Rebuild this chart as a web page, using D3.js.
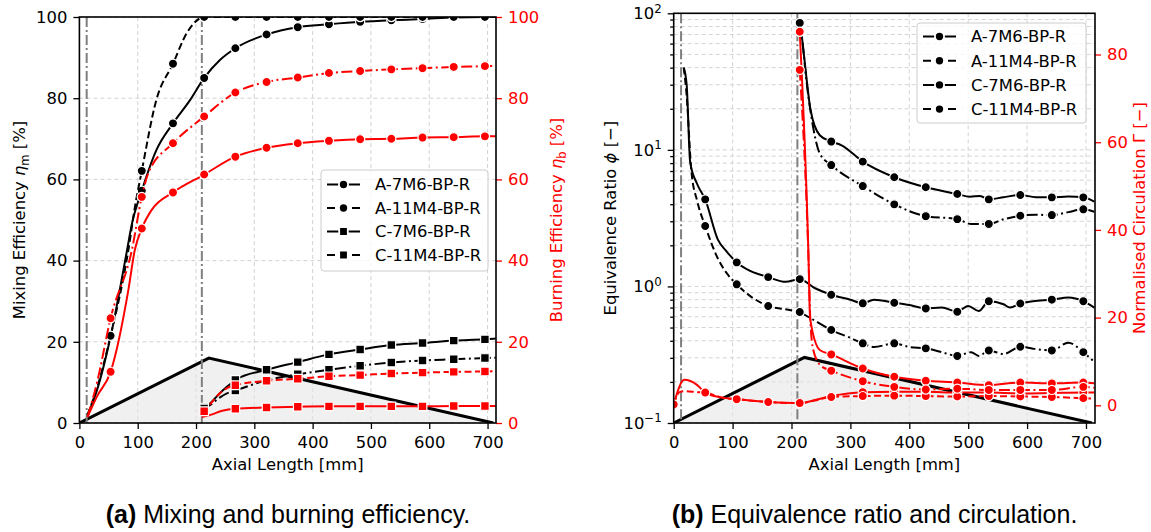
<!DOCTYPE html>
<html>
<head>
<meta charset="utf-8">
<script src="https://cdn.jsdelivr.net/npm/d3@7"></script>
<style>
  body { margin: 0; background: #fff; }
  text { font-family: "DejaVu Sans", sans-serif; }
</style>
</head>
<body>
<svg id="chart" width="1151" height="532"></svg>
<script>
// ticks, sections and legend
const markerX = [0, 53.5, 107, 160.5, 214, 267.5, 321, 374.5, 428, 481.5, 535, 588.5, 642, 695.5];
const xTicks = [0, 100, 200, 300, 400, 500, 600, 700];
const effTicks = [0, 20, 40, 60, 80, 100];
const phiTicks = [0.1, 1, 10, 100];
const phiTickExp = ["\u22121", "0", "1", "2"];
const gammaTicks = [0, 20, 40, 60, 80];
const sectionX = [12.5, 210];
const coneX = [0, 222, 710];
const coneH = [0, 0.16, 0];
const legendNames = ["A-7M6-BP-R", "A-11M4-BP-R", "C-7M6-BP-R", "C-11M4-BP-R"];

// (a) mixing efficiency [%]
const mixA7 = [[14,2],[30,8],[53.5,21.3],[81,42],[90,49],[107,57.2],[132,67.2],[160.5,73.8],[190,79.6],[214,85],[241,89.4],[267.5,92.3],[321,95.7],[374.5,97.5],[428,98.2],[481.5,98.8],[535,99.2],[588.5,99.5],[642,99.9],[695.5,100],[714,100]];
const mixA11 = [[14,2],[30,8.5],[53.5,21.5],[84,42.6],[95,53],[107,62.1],[132,79.6],[160.5,88.5],[184,96],[207,99.7],[214,100],[267.5,100],[321,100],[374.5,100],[428,100],[481.5,100],[535,100],[588.5,100],[642,100],[695.5,100],[714,100]];
const mixC7 = [[212,3.5],[214,3.8],[224,4.8],[240,7.2],[253,8.9],[267.5,10.6],[321,13.1],[374.5,15.0],[428,16.9],[481.5,18.1],[535,19.2],[588.5,19.7],[642,20.3],[695.5,20.6],[714,20.8]];
const mixC11 = [[212,3.3],[214,3.6],[224,4.4],[240,6.2],[253,7.3],[267.5,8.0],[321,10.5],[374.5,12.0],[428,13.1],[481.5,14.1],[535,14.9],[588.5,15.4],[642,15.7],[695.5,16.0],[714,16.1]];
// (a) burning efficiency [%]
const burnA7 = [[14,1.5],[30,6.5],[53.5,12.6],[84,32.8],[95,42.6],[107,47.9],[124,52.5],[160.5,56.8],[214,61.2],[267.5,65.6],[321,67.8],[374.5,68.9],[428,69.5],[481.5,69.9],[535,70.0],[588.5,70.3],[642,70.4],[695.5,70.6],[714,70.6]];
const burnA11 = [[14,1.5],[30,9.8],[53.5,25.8],[90,42.6],[107,55.7],[118,61.5],[160.5,68.9],[214,75.5],[267.5,81.4],[321,84],[374.5,85.1],[428,86.2],[481.5,86.7],[535,87.1],[588.5,87.4],[642,87.7],[695.5,87.9],[714,88]];
const burnC7 = [[210,1.5],[225,2.0],[245,3.0],[267.5,3.5],[321,3.8],[374.5,4.0],[428,4.1],[481.5,4.1],[535,4.1],[588.5,4.1],[642,4.2],[695.5,4.2],[714,4.2]];
const burnC11 = [[212,2.6],[214,2.9],[224,4.6],[240,7.2],[253,8.6],[267.5,9.3],[321,10.4],[374.5,10.9],[428,11.5],[481.5,11.8],[535,12.2],[588.5,12.4],[642,12.6],[695.5,12.7],[714,12.8]];

// (b) equivalence ratio [-]
const phiA7 = [[17,40],[22,30],[28,8.1],[40,5.6],[53.5,4.34],[75,2.2],[90,1.8],[107,1.5],[130,1.3],[160.5,1.17],[190,1.08],[214,1.13],[240,0.97],[267.5,0.87],[300,0.8],[321,0.752],[340,0.8],[374.5,0.76],[400,0.73],[428,0.69],[455,0.70],[481.5,0.653],[500,0.72],[518,0.66],[535,0.78],[560,0.74],[571,0.70],[588.5,0.75],[610,0.78],[642,0.8],[670,0.83],[695.5,0.78],[714,0.70]];
const phiA11 = [[17,40],[22,25],[30,7.0],[40,4.2],[53.5,2.77],[75,1.6],[90,1.25],[107,1.036],[130,0.85],[160.5,0.719],[190,0.68],[214,0.65],[240,0.56],[267.5,0.48],[300,0.42],[321,0.383],[340,0.36],[374.5,0.383],[400,0.36],[428,0.352],[455,0.33],[481.5,0.31],[505,0.33],[518,0.31],[535,0.34],[560,0.32],[588.5,0.362],[610,0.35],[642,0.34],[670,0.387],[695.5,0.33],[714,0.28]];
const phiC7 = [[214,85],[218,65],[225,35],[232,20],[248,12.8],[267.5,11.5],[285,10.8],[321,8.2],[374.5,6.3],[428,5.32],[481.5,4.75],[503,4.54],[520,4.6],[535,4.34],[560,4.5],[588.5,4.67],[615,4.5],[642,4.49],[670,4.55],[695.5,4.49],[714,4.17]];
const phiC11 = [[214,85],[218,65],[225,33],[232,19.6],[248,9.4],[267.5,7.74],[321,5.43],[374.5,3.99],[428,3.27],[481.5,3.11],[505,2.87],[535,2.87],[560,3.1],[588.5,3.29],[615,3.35],[642,3.33],[670,3.5],[695.5,3.67],[714,3.52]];
// (b) normalised circulation [-]
const gamA7 = [[0,0.2],[18,5.8],[40,4.6],[53.5,2.9],[80,1.8],[107,1.4],[160.5,0.75],[214,0.5],[240,1.2],[267.5,2.1],[321,3.0],[374.5,3.1],[428,3.1],[481.5,2.9],[535,2.9],[588.5,2.7],[642,2.8],[695.5,2.9],[714,2.9]];
const gamA11 = [[0,0.2],[10,3.0],[18,3.2],[40,3.0],[53.5,2.9],[80,1.8],[107,1.4],[160.5,0.75],[214,0.5],[240,1.1],[267.5,1.9],[321,2.1],[374.5,2.2],[428,2.1],[481.5,2.0],[535,2.1],[588.5,2.0],[642,1.9],[695.5,1.6],[714,1.5]];
const gamC7 = [[214,85.2],[228.6,35.4],[231.6,19.8],[248,12.6],[267.5,11.6],[321,8.4],[374.5,6.5],[428,5.6],[481.5,5.2],[535,4.6],[588.5,5.2],[642,5.0],[695.5,5.2],[714,5.0]];
const gamC11 = [[214,76.5],[229,33],[232,19.4],[237,12.6],[250,9],[267.5,7.9],[321,5.5],[374.5,4.2],[428,3.6],[481.5,3.8],[535,3.5],[588.5,3.5],[642,3.5],[695.5,4.2],[714,4.0]];

const svg = d3.select("#chart");
const FS = 16.4;
const dashes = { solid: null, dashed: "7,3.5", dashdot: "11,3.5,2,3.5" };
const symbols = { circle: d3.symbol().type(d3.symbolCircle).size(66)(),
                  square: d3.symbol().type(d3.symbolSquare).size(74)() };

function styleAxis(a, color) {
  a.select(".domain").remove();
  a.selectAll(".tick line").attr("stroke", color).attr("stroke-width", 1.3);
  a.selectAll(".tick text").attr("fill", color).attr("font-size", FS).attr("font-family", "DejaVu Sans");
  return a;
}

function rotLabel(g, x, y, parts, color) {
  const t = g.append("text").attr("transform", `translate(${x},${y}) rotate(-90)`)
    .attr("text-anchor", "middle").attr("font-size", FS).attr("fill", color);
  let shift = 0;
  parts.forEach(p => {
    const s = t.append("tspan").text(p.t);
    const want = p.sub ? 4 : 0;
    if (want !== shift) { s.attr("dy", want - shift); shift = want; }
    if (p.sub) s.attr("font-size", FS * 0.7);
    if (p.it) s.attr("font-style", "italic");
  });
}

function drawPanel(p) {
  const g = svg.append("g");
  const [x0, x1] = p.x.range();
  const [yb, yt] = p.y.range();
  const clipId = p.id + "-clip";
  svg.append("clipPath").attr("id", clipId).append("rect")
    .attr("x", x0).attr("y", yt).attr("width", x1 - x0).attr("height", yb - yt);

  // grid
  const grid = g.append("g").attr("stroke", "#d3d3d3").attr("stroke-width", 1).attr("stroke-dasharray", "4,3");
  grid.selectAll(".gx").data(xTicks).join("line").attr("class", "gx")
    .attr("x1", d => p.x(d)).attr("x2", d => p.x(d)).attr("y1", yt).attr("y2", yb);
  grid.selectAll(".gy").data(p.yGrid).join("line").attr("class", "gy")
    .attr("x1", x0).attr("x2", x1).attr("y1", d => p.y(d)).attr("y2", d => p.y(d));

  // schematic cone
  const coneY = d3.scaleLinear().domain([0, 1]).range([yb, yt]);
  const cone = coneX.map((d, i) => [p.x(d), coneY(coneH[i])]);
  g.append("path").attr("d", d3.line()(cone) + "Z").attr("fill", "#e6e6e6").attr("fill-opacity", 0.6)
    .attr("clip-path", `url(#${clipId})`);
  g.append("path").attr("d", d3.line()(cone)).attr("fill", "none").attr("stroke", "#000")
    .attr("stroke-width", 3).attr("clip-path", `url(#${clipId})`);

  // section boundaries
  g.selectAll(".sec").data(sectionX).join("line").attr("class", "sec")
    .attr("x1", d => p.x(d)).attr("x2", d => p.x(d)).attr("y1", yt).attr("y2", yb)
    .attr("stroke", "#808080").attr("stroke-width", 2).attr("stroke-dasharray", "10,3,2,3");

  // series
  const plot = g.append("g").attr("clip-path", `url(#${clipId})`);
  p.series.forEach(s => {
    const ys = s.right ? p.y2 : p.y;
    const line = d3.line().x(d => p.x(d[0])).y(d => ys(d[1])).curve(d3.curveMonotoneX);
    const parts = s.splitX
      ? [[s.data.filter(d => d[0] <= s.splitX), s.dash], [s.data.filter(d => d[0] >= s.splitX), s.dash2]]
      : [[s.data, s.dash]];
    parts.forEach(([pts, dash]) => {
      plot.append("path").attr("d", line(pts)).attr("fill", "none").attr("stroke", s.color)
        .attr("stroke-width", 2).attr("stroke-dasharray", dashes[dash]);
    });
    plot.selectAll(null).data(s.data.filter(d => markerX.includes(d[0]))).join("path")
      .attr("d", symbols[s.marker])
      .attr("transform", d => `translate(${p.x(d[0])},${ys(d[1])})`)
      .attr("fill", s.color).attr("stroke", "#fff").attr("stroke-width", 1.2);
  });

  // axes
  styleAxis(g.append("g").attr("transform", `translate(0,${yb})`)
    .call(d3.axisBottom(p.x).tickValues(xTicks).tickSize(6).tickPadding(7.5).tickSizeOuter(0)), "#000");
  const la = styleAxis(g.append("g").attr("transform", `translate(${x0},0)`).call(p.leftAxis), "#000");
  if (p.leftMinor) styleAxis(g.append("g").attr("transform", `translate(${x0},0)`).call(p.leftMinor), "#000");
  if (p.logLabels) {
    la.selectAll(".tick text").each(function (d, i) {
      const t = d3.select(this).text("10");
      t.append("tspan").attr("dy", "-0.55em").attr("font-size", FS * 0.72).text(phiTickExp[i]);
    });
  }
  styleAxis(g.append("g").attr("transform", `translate(${x1},0)`).call(p.rightAxis), "red");

  // spines
  g.append("rect").attr("x", x0).attr("y", yt).attr("width", x1 - x0).attr("height", yb - yt)
    .attr("fill", "none").attr("stroke", "#000").attr("stroke-width", 1.6);

  // labels
  g.append("text").attr("x", (x0 + x1) / 2).attr("y", 470).attr("text-anchor", "middle")
    .attr("font-size", FS).text("Axial Length [mm]");
  rotLabel(g, x0 - p.labelOff[0], (yt + yb) / 2, p.leftLabel, "#000");
  rotLabel(g, x1 + p.labelOff[1], (yt + yb) / 2, p.rightLabel, "red");

  // legend
  const L = p.legend;
  g.append("rect").attr("x", L.x).attr("y", L.y).attr("width", L.w).attr("height", L.h).attr("rx", 3)
    .attr("fill", "#fff").attr("fill-opacity", 0.8).attr("stroke", "#cccccc");
  legendNames.forEach((name, i) => {
    const cy = L.y + L.first + i * L.step;
    g.append("line").attr("x1", L.x + 6).attr("x2", L.x + 39).attr("y1", cy).attr("y2", cy)
      .attr("stroke", "#000").attr("stroke-width", 2)
      .attr("stroke-dasharray", i % 2 ? "8,17,8" : null);
    g.append("path").attr("d", symbols[L.markers[i]]).attr("transform", `translate(${L.x + 22.5},${cy})`)
      .attr("fill", "#000").attr("stroke", "#fff").attr("stroke-width", 1.8);
    g.append("text").attr("x", L.x + 54).attr("y", cy + 5.8).attr("font-size", FS).text(name);
  });

  // caption
  const cap = svg.append("text").attr("x", p.capX).attr("y", 523).attr("text-anchor", "middle")
    .attr("font-size", 25).style("font-family", "'Liberation Sans', sans-serif");
  cap.append("tspan").attr("font-weight", "bold").text(p.capTag);
  cap.append("tspan").text(" " + p.caption);
}

// (a)
const xA = d3.scaleLinear().domain([0, 714.5]).range([79.4, 496]);
const yA = d3.scaleLinear().domain([0, 100]).range([423, 17]);
drawPanel({
  id: "pa", x: xA, y: yA, y2: yA, yGrid: effTicks, labelOff: [54.5, 66],
  leftAxis: d3.axisLeft(yA).tickValues(effTicks).tickSize(6).tickPadding(6),
  rightAxis: d3.axisRight(yA).tickValues(effTicks).tickSize(6).tickPadding(6),
  leftLabel: [{ t: "Mixing Efficiency " }, { t: "\u03b7", it: true }, { t: "m", sub: true }, { t: " [%]" }],
  rightLabel: [{ t: "Burning Efficiency " }, { t: "\u03b7", it: true }, { t: "b", sub: true }, { t: " [%]" }],
  series: [
    { data: mixA7, color: "#000", dash: "solid", marker: "circle" },
    { data: mixA11, color: "#000", dash: "dashed", marker: "circle" },
    { data: mixC7, color: "#000", dash: "solid", marker: "square" },
    { data: mixC11, color: "#000", dash: "dashdot", marker: "square" },
    { data: burnA7, color: "red", dash: "solid", marker: "circle", right: true },
    { data: burnA11, color: "red", dash: "dashdot", marker: "circle", right: true },
    { data: burnC7, color: "red", dash: "solid", marker: "square", right: true },
    { data: burnC11, color: "red", dash: "dashed", marker: "square", right: true }
  ],
  legend: { x: 321, y: 170, w: 167, h: 101, first: 14.5, step: 23.5, markers: ["circle", "circle", "square", "square"] },
  capX: 288, capTag: "(a)", caption: "Mixing and burning efficiency."
});

// (b)
const xB = d3.scaleLinear().domain([0, 715.3]).range([673.7, 1095]);
const yB = d3.scaleLog().domain([0.1, 100]).range([423, 13.3]);
const yB2 = d3.scaleLinear().domain([-4.04, 89.4]).range([423, 13.3]);
drawPanel({
  id: "pb", x: xB, y: yB, y2: yB2, yGrid: yB.ticks(), labelOff: [58, 50],
  leftAxis: d3.axisLeft(yB).tickValues(phiTicks).tickSize(6).tickPadding(6),
  leftMinor: d3.axisLeft(yB).tickValues(yB.ticks().filter(d => !phiTicks.includes(d))).tickSize(3.5).tickFormat(""),
  logLabels: true,
  rightAxis: d3.axisRight(yB2).tickValues(gammaTicks).tickSize(6).tickPadding(6),
  leftLabel: [{ t: "Equivalence Ratio " }, { t: "\u03d5", it: true }, { t: " [\u2212]" }],
  rightLabel: [{ t: "Normalised Circulation \u0393 [\u2212]" }],
  series: [
    { data: phiA7, color: "#000", dash: "solid", marker: "circle" },
    { data: phiA11, color: "#000", dash: "dashed", dash2: "dashdot", splitX: 214, marker: "circle" },
    { data: phiC7, color: "#000", dash: "solid", marker: "circle" },
    { data: phiC11, color: "#000", dash: "dashdot", marker: "circle" },
    { data: gamA7, color: "red", dash: "solid", marker: "circle", right: true },
    { data: gamA11, color: "red", dash: "dashed", marker: "circle", right: true },
    { data: gamC7, color: "red", dash: "solid", marker: "circle", right: true },
    { data: gamC11, color: "red", dash: "dashdot", marker: "circle", right: true }
  ],
  legend: { x: 917, y: 23, w: 169, h: 100, first: 13.5, step: 24.2, markers: ["circle", "circle", "circle", "circle"] },
  capX: 874.5, capTag: "(b)", caption: "Equivalence ratio and circulation."
});
</script>
</body>
</html>
